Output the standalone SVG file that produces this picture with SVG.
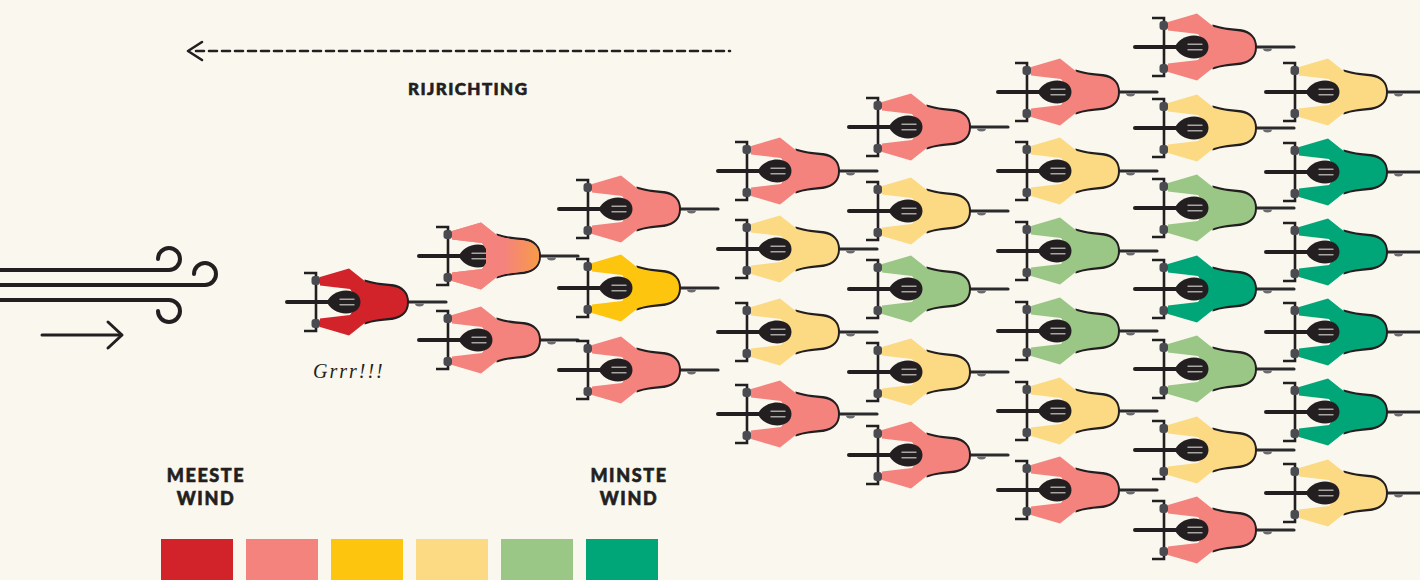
<svg xmlns="http://www.w3.org/2000/svg" xmlns:xlink="http://www.w3.org/1999/xlink" width="1420" height="580" viewBox="0 0 1420 580">
  <style>
    .ink{stroke:#231F20;fill:none;stroke-linecap:round;stroke-linejoin:round}
    .label{font-family:Lato,"Open Sans","Liberation Sans",sans-serif;font-weight:900;fill:#231F20;stroke:#231F20;stroke-width:0.6}
    .red{color:#D2232A}
    .salmon{color:#F4837D}
    .gold{color:#FDC50E}
    .sand{color:#FCD983}
    .sage{color:#9AC686}
    .green{color:#00A678}
  </style>
  <defs>
    <linearGradient id="warm" x1="0" y1="0" x2="1" y2="0">
      <stop offset="0.6" stop-color="#F4837D"/>
      <stop offset="1" stop-color="#F79A48"/>
    </linearGradient>
    <!-- rider seen from above, origin at the centre of the handlebar, riding to the left -->
    <path id="torso" d="M4,-25 L33,-33.5 L50,-20 C59,-17 68,-16.5 76,-15.5 C86,-14 91,-9 91,0 C91,9 86,14 76,15.5 C68,16.5 59,17 50,20 L33,33.5 L4,25 L4,16.5 L34,13 L38,7 L38,-7 L34,-13 L4,-16.5 Z"/>
    <path id="helmet" d="M11,0 C13,-6 21,-11.5 30,-11.5 C39,-11.5 44.5,-6.5 44.5,0 C44.5,6.5 39,11.5 30,11.5 C21,11.5 13,6 11,0 Z"/>
    <g id="rider">
      <line x1="88" y1="0" x2="130" y2="0" stroke="#2B2A2C" stroke-width="3.2" stroke-linecap="round"/>
      <path d="M99,1.5 a4.5,3 0 0 0 9,0 z" fill="#6B6C6F"/>
      <line x1="-29" y1="0" x2="20" y2="0" stroke="#231F20" stroke-width="4" stroke-linecap="round"/>
      <path d="M-12,-29 H0 V29 H-12" fill="none" stroke="#231F20" stroke-width="2.6"/>
      <path d="M50,-20.5 C59,-17.5 68,-17 76,-16.5 C86,-15 91.5,-9 91.5,0 C91.5,9 86,15 76,16.5 C68,17 59,17.5 50,20.5 Z" fill="#231F20" stroke="#231F20" stroke-width="3"/>
      <use href="#torso" fill="currentColor"/>
      <rect x="-4.5" y="-26" width="8.5" height="9" rx="3" fill="#4A4B50"/>
      <rect x="-4.5" y="17" width="8.5" height="9" rx="3" fill="#4A4B50"/>
      <use href="#helmet" fill="#231F20"/>
      <path d="M24,-2.8 H38 M24,2.8 H38" stroke="#A7A6A2" stroke-width="1.4" stroke-linecap="round"/>
    </g>
  </defs>

  <rect width="1420" height="580" fill="#F9F7EE"/>

  <!-- direction of travel -->
  <g id="direction">
    <line class="ink" x1="196" y1="51" x2="730" y2="51" stroke-width="2.6" stroke-dasharray="8 5" stroke-linecap="butt"/>
    <polyline class="ink" points="202,42 188,51 202,60" stroke-width="2.6"/>
    <text class="label" x="408" y="95" font-size="17" letter-spacing="1.4">RIJRICHTING</text>
  </g>

  <!-- wind -->
  <g id="wind" class="ink" stroke-width="4">
    <path d="M0,270 H169 A11,11 0 1 0 158,259"/>
    <path d="M0,285 H205 A11,11 0 1 0 194,274"/>
    <path d="M0,300 H169 A11,11 0 1 1 158,311"/>
    <path d="M42,335 H121" stroke-width="3"/>
    <polyline points="108,322 122,335 108,348" stroke-width="3"/>
  </g>

  <!-- peloton -->
  <g id="rider-1-1" class="red" transform="translate(316,302)"><use href="#rider"/></g>
  <text id="grrr" x="313" y="378" font-family="'Liberation Serif',serif" font-style="italic" font-size="20" letter-spacing="2" fill="#231F20">Grrr!!!</text>

  <g id="rider-2-1" class="salmon" transform="translate(448,256)">
    <use href="#rider"/>
    <use href="#torso" fill="url(#warm)"/>
  </g>
  <g id="rider-2-2" class="salmon" transform="translate(448,340)"><use href="#rider"/></g>

  <g id="rider-3-1" class="salmon" transform="translate(588,209)"><use href="#rider"/></g>
  <g id="rider-3-2" class="gold" transform="translate(588,288)"><use href="#rider"/></g>
  <g id="rider-3-3" class="salmon" transform="translate(588,370)"><use href="#rider"/></g>

  <g id="rider-4-1" class="salmon" transform="translate(747,171)"><use href="#rider"/></g>
  <g id="rider-4-2" class="sand" transform="translate(747,249)"><use href="#rider"/></g>
  <g id="rider-4-3" class="sand" transform="translate(747,332)"><use href="#rider"/></g>
  <g id="rider-4-4" class="salmon" transform="translate(747,414)"><use href="#rider"/></g>

  <g id="rider-5-1" class="salmon" transform="translate(878,127)"><use href="#rider"/></g>
  <g id="rider-5-2" class="sand" transform="translate(878,211)"><use href="#rider"/></g>
  <g id="rider-5-3" class="sage" transform="translate(878,289)"><use href="#rider"/></g>
  <g id="rider-5-4" class="sand" transform="translate(878,372)"><use href="#rider"/></g>
  <g id="rider-5-5" class="salmon" transform="translate(878,455)"><use href="#rider"/></g>

  <g id="rider-6-1" class="salmon" transform="translate(1027,92)"><use href="#rider"/></g>
  <g id="rider-6-2" class="sand" transform="translate(1027,171)"><use href="#rider"/></g>
  <g id="rider-6-3" class="sage" transform="translate(1027,251)"><use href="#rider"/></g>
  <g id="rider-6-4" class="sage" transform="translate(1027,331)"><use href="#rider"/></g>
  <g id="rider-6-5" class="sand" transform="translate(1027,411)"><use href="#rider"/></g>
  <g id="rider-6-6" class="salmon" transform="translate(1027,490)"><use href="#rider"/></g>

  <g id="rider-7-1" class="salmon" transform="translate(1164,47)"><use href="#rider"/></g>
  <g id="rider-7-2" class="sand" transform="translate(1164,128)"><use href="#rider"/></g>
  <g id="rider-7-3" class="sage" transform="translate(1164,208)"><use href="#rider"/></g>
  <g id="rider-7-4" class="green" transform="translate(1164,289)"><use href="#rider"/></g>
  <g id="rider-7-5" class="sage" transform="translate(1164,369)"><use href="#rider"/></g>
  <g id="rider-7-6" class="sand" transform="translate(1164,450)"><use href="#rider"/></g>
  <g id="rider-7-7" class="salmon" transform="translate(1164,530)"><use href="#rider"/></g>

  <g id="rider-8-1" class="sand" transform="translate(1295,92)"><use href="#rider"/></g>
  <g id="rider-8-2" class="green" transform="translate(1295,172)"><use href="#rider"/></g>
  <g id="rider-8-3" class="green" transform="translate(1295,252)"><use href="#rider"/></g>
  <g id="rider-8-4" class="green" transform="translate(1295,332)"><use href="#rider"/></g>
  <g id="rider-8-5" class="green" transform="translate(1295,412)"><use href="#rider"/></g>
  <g id="rider-8-6" class="sand" transform="translate(1295,493)"><use href="#rider"/></g>

  <!-- legend -->
  <g id="legend">
    <text class="label" font-size="18" letter-spacing="1.6" text-anchor="middle"><tspan x="206" y="482">MEESTE</tspan><tspan x="206" y="505">WIND</tspan></text>
    <text class="label" font-size="18" letter-spacing="1.6" text-anchor="middle"><tspan x="629" y="482">MINSTE</tspan><tspan x="629" y="505">WIND</tspan></text>
    <rect x="161" y="539" width="72" height="41" fill="#D2232A"/>
    <rect x="246" y="539" width="72" height="41" fill="#F4837D"/>
    <rect x="331" y="539" width="72" height="41" fill="#FDC50E"/>
    <rect x="416" y="539" width="72" height="41" fill="#FCD983"/>
    <rect x="501" y="539" width="72" height="41" fill="#9AC686"/>
    <rect x="586" y="539" width="72" height="41" fill="#00A678"/>
  </g>
</svg>
